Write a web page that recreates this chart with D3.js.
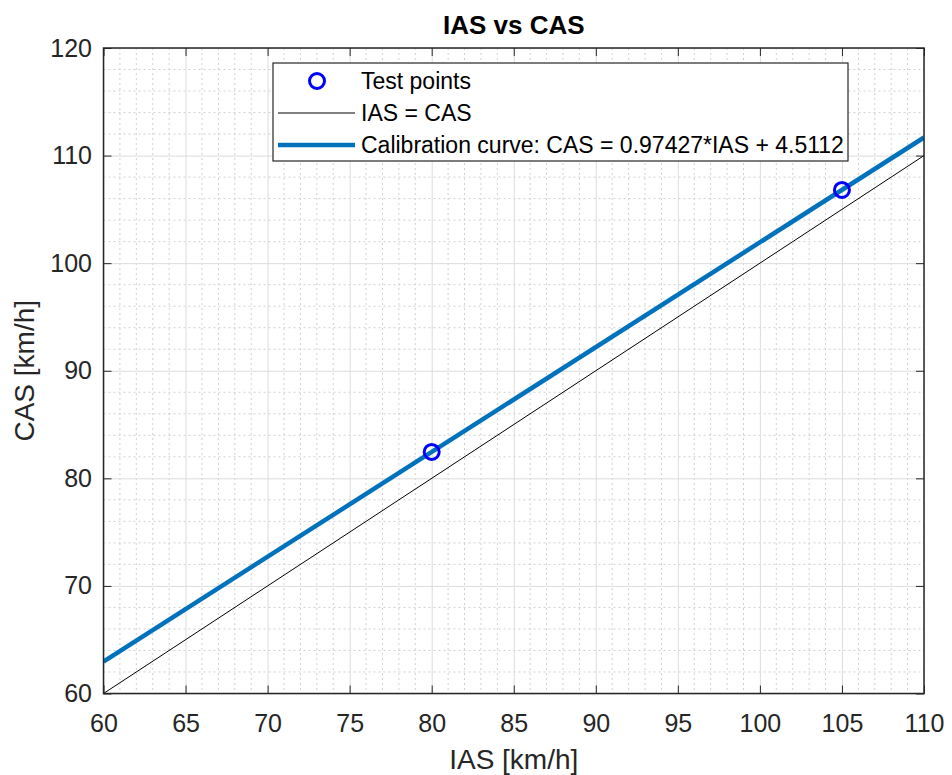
<!DOCTYPE html>
<html>
<head>
<meta charset="utf-8">
<script src="https://cdn.jsdelivr.net/npm/d3@7"></script>
<style>
  body { margin: 0; background: #fff; }
  text { font-family: Arial, "Liberation Sans", sans-serif; }
</style>
</head>
<body>
<svg id="chart" width="952" height="775"></svg>
<script>
// data
const testIAS = [80, 105];
const testCAS = [82.45, 106.81];
const lineIAS = [60, 110];
const calSlope = 0.97427;
const calOffset = 4.5112;
const xTicks = [60, 65, 70, 75, 80, 85, 90, 95, 100, 105, 110];
const yTicks = [60, 70, 80, 90, 100, 110, 120];
const legendLabels = ['Test points', 'IAS = CAS', 'Calibration curve: CAS = 0.97427*IAS + 4.5112'];

const svg = d3.select('#chart');
const margin = { left: 103.5, top: 48, right: 952 - 924, bottom: 775 - 693.5 };
const width = 952 - margin.left - margin.right;
const height = 775 - margin.top - margin.bottom;
const textColor = '#262626';

const x = d3.scaleLinear().domain([60, 110]).range([0, width]);
const y = d3.scaleLinear().domain([60, 120]).range([height, 0]);

const g = svg.append('g').attr('transform', `translate(${margin.left},${margin.top})`);

// minor grid
const minorX = d3.range(60, 111, 1).filter(v => v % 5 !== 0);
const minorY = d3.range(60, 121, 2).filter(v => v % 10 !== 0);
g.append('g')
  .selectAll('line')
  .data(minorX)
  .join('line')
  .attr('x1', d => x(d)).attr('x2', d => x(d))
  .attr('y1', 0).attr('y2', height)
  .attr('stroke', '#d0d0d0')
  .attr('stroke-dasharray', '2,3');
g.append('g')
  .selectAll('line')
  .data(minorY)
  .join('line')
  .attr('y1', d => y(d)).attr('y2', d => y(d))
  .attr('x1', 0).attr('x2', width)
  .attr('stroke', '#d0d0d0')
  .attr('stroke-dasharray', '2,3');

// major grid
g.append('g')
  .call(d3.axisBottom(x).tickValues(xTicks).tickSize(height).tickFormat(''))
  .call(a => a.select('.domain').remove())
  .selectAll('line').attr('stroke', '#dcdcdc');
g.append('g')
  .call(d3.axisLeft(y).tickValues(yTicks).tickSize(-width).tickFormat(''))
  .call(a => a.select('.domain').remove())
  .selectAll('line').attr('stroke', '#dcdcdc');

// lines
const ident = lineIAS.map(v => [v, v]);
const calib = lineIAS.map(v => [v, calSlope * v + calOffset]);
const line = d3.line().x(d => x(d[0])).y(d => y(d[1]));

g.append('path').datum(ident)
  .attr('d', line).attr('fill', 'none')
  .attr('stroke', '#000').attr('stroke-width', 1);

g.append('defs').append('clipPath').attr('id', 'clip')
  .append('rect').attr('width', width).attr('height', height);

g.append('path').datum(calib)
  .attr('clip-path', 'url(#clip)')
  .attr('d', line).attr('fill', 'none')
  .attr('stroke', '#0072BD').attr('stroke-width', 4.5);

g.append('g')
  .selectAll('circle')
  .data(testIAS.map((v, i) => [v, testCAS[i]]))
  .join('circle')
  .attr('cx', d => x(d[0])).attr('cy', d => y(d[1]))
  .attr('r', 7.5)
  .attr('fill', 'none')
  .attr('stroke', '#0000ff')
  .attr('stroke-width', 3);

// axes box with inward ticks
const tickLen = 8;
function styleAxis(a) {
  a.select('.domain').remove();
  a.selectAll('line').attr('stroke', textColor);
  a.selectAll('text').attr('fill', textColor).attr('font-size', 25)
    .attr('font-family', 'Arial, "Liberation Sans", sans-serif');
}
g.append('g').attr('transform', `translate(0,${height})`)
  .call(d3.axisBottom(x).tickValues(xTicks).tickSizeInner(-tickLen).tickSizeOuter(0).tickPadding(20.5))
  .call(styleAxis);
g.append('g')
  .call(d3.axisTop(x).tickValues(xTicks).tickSizeInner(-tickLen).tickSizeOuter(0).tickFormat(''))
  .call(styleAxis);
g.append('g')
  .call(d3.axisLeft(y).tickValues(yTicks).tickSizeInner(-tickLen).tickSizeOuter(0).tickPadding(11.5))
  .call(styleAxis);
g.append('g').attr('transform', `translate(${width},0)`)
  .call(d3.axisRight(y).tickValues(yTicks).tickSizeInner(-tickLen).tickSizeOuter(0).tickFormat(''))
  .call(styleAxis);

g.append('rect')
  .attr('width', width).attr('height', height)
  .attr('fill', 'none').attr('stroke', textColor).attr('stroke-width', 1.5);

// labels
svg.append('text')
  .attr('x', margin.left + width / 2).attr('y', 34)
  .attr('text-anchor', 'middle')
  .attr('font-size', 26).attr('font-weight', 700)
  .attr('fill', '#000')
  .text('IAS vs CAS');

svg.append('text')
  .attr('x', margin.left + width / 2).attr('y', 769)
  .attr('text-anchor', 'middle')
  .attr('font-size', 28).attr('fill', textColor)
  .text('IAS [km/h]');

svg.append('text')
  .attr('transform', `translate(34,${margin.top + height / 2}) rotate(-90)`)
  .attr('text-anchor', 'middle')
  .attr('font-size', 28).attr('fill', textColor)
  .text('CAS [km/h]');

// legend
const legend = svg.append('g').attr('transform', 'translate(273,63)');
legend.append('rect')
  .attr('width', 575).attr('height', 98)
  .attr('fill', '#fff').attr('stroke', textColor).attr('stroke-width', 1.2);

const rowY = [18, 50, 82];
legend.append('circle')
  .attr('cx', 44).attr('cy', rowY[0]).attr('r', 7.5)
  .attr('fill', 'none').attr('stroke', '#0000ff').attr('stroke-width', 3);
legend.append('line')
  .attr('x1', 5).attr('x2', 82).attr('y1', rowY[1]).attr('y2', rowY[1])
  .attr('stroke', '#000').attr('stroke-width', 1);
legend.append('line')
  .attr('x1', 5).attr('x2', 82).attr('y1', rowY[2]).attr('y2', rowY[2])
  .attr('stroke', '#0072BD').attr('stroke-width', 4.5);

legend.selectAll('text.lab')
  .data(legendLabels)
  .join('text')
  .attr('class', 'lab')
  .attr('x', 88)
  .attr('y', (d, i) => rowY[i] + 8)
  .attr('font-size', 23)
  .attr('fill', '#000')
  .text(d => d);
</script>
</body>
</html>
